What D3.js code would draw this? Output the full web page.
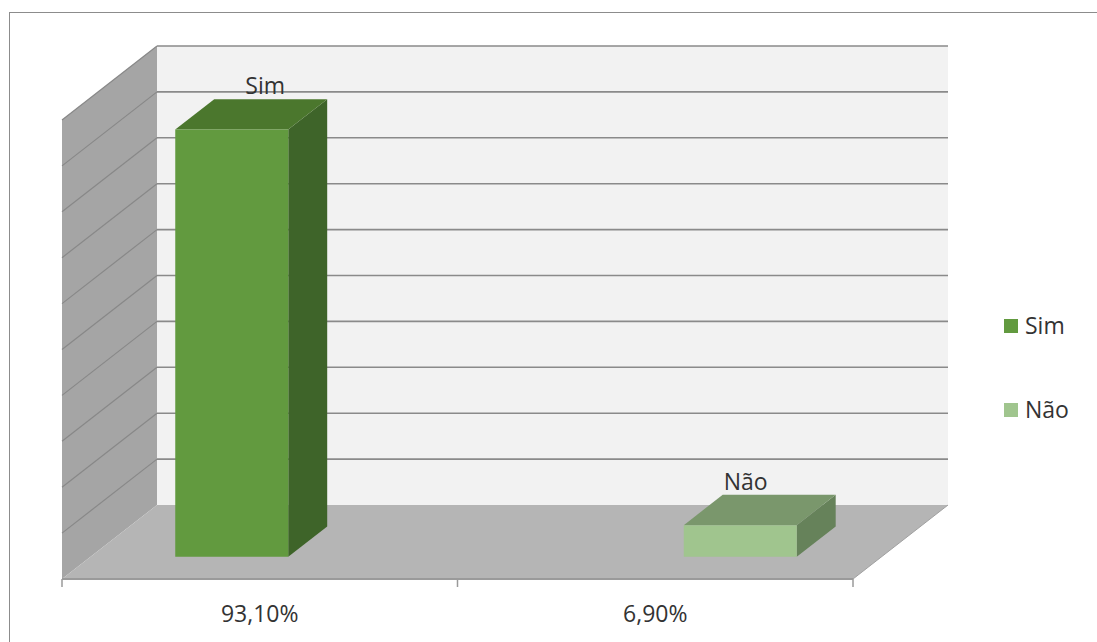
<!DOCTYPE html>
<html>
<head>
<meta charset="utf-8">
<script src="https://cdn.jsdelivr.net/npm/d3@7"></script>
<style>
  html, body { margin: 0; padding: 0; background: #ffffff; }
  svg { display: block; }
  text { font-family: "Open Sans", "DejaVu Sans", sans-serif; fill: #333333; }
</style>
</head>
<body>
<svg id="chart" width="1097" height="642"></svg>
<script>
// Categories and series values
const categories = ["93,10%", "6,90%"];
const series = ["Sim", "Não"];
const simValues = [93.1, 0];
const naoValues = [0, 6.9];
const valueTicks = [0, 10, 20, 30, 40, 50, 60, 70, 80, 90, 100];

const seriesValues = [simValues, naoValues];
const colors = {
  "Sim": { front: "#629a3f", top: "#4b772d", side: "#3e6429" },
  "Não": { front: "#a0c58e", top: "#7a976c", side: "#66825a" }
};

const svg = d3.select("#chart");

// Oblique 3D frame: back wall, side wall, floor
const wall = { left: 157, right: 948, top: 46, bottom: 505 };
const depthDX = -95, depthDY = 74;           // offset of the front edge relative to the back wall
const barDepth = [0.29, 0.70];               // bar spans this fraction of the depth

const x = d3.scaleBand().domain(categories).range([wall.left, wall.right]).paddingInner(0).paddingOuter(0);
const xs = d3.scaleBand().domain(series).range([0, x.bandwidth()]).paddingInner(0).paddingOuter(0.75);
const y = d3.scaleLinear().domain([0, 100]).range([wall.bottom, wall.top]);

// project (back-wall x, back-wall y, depth 0..1) to screen
const P = (px, py, d) => [px + depthDX * d, py + depthDY * d];
const poly = pts => "M" + pts.map(p => p.join(",")).join("L") + "Z";

// outer chart border
svg.append("rect").attr("x", 9.5).attr("y", 12.5).attr("width", 1200).attr("height", 700)
  .attr("fill", "none").attr("stroke", "#8c8c8c").attr("stroke-width", 1);

const g = svg.append("g");

// back wall
g.append("path")
  .attr("d", poly([[wall.left, y(100)], [wall.right, y(100)], [wall.right, y(0)], [wall.left, y(0)]]))
  .attr("fill", "#f2f2f2");

// side wall
g.append("path")
  .attr("d", poly([[wall.left, y(100)], P(wall.left, y(100), 1), P(wall.left, y(0), 1), [wall.left, y(0)]]))
  .attr("fill", "#a5a5a5");

// floor
g.append("path")
  .attr("d", poly([[wall.left, y(0)], [wall.right, y(0)], P(wall.right, y(0), 1), P(wall.left, y(0), 1)]))
  .attr("fill", "#b5b5b5");

// gridlines on back and side walls
const grid = valueTicks.filter(v => v > 0);
g.selectAll("line.grid-back").data(grid).join("line")
  .attr("class", "grid-back")
  .attr("x1", wall.left).attr("x2", wall.right)
  .attr("y1", d => y(d)).attr("y2", d => y(d))
  .attr("stroke", "#8a8a8a").attr("stroke-width", 1.6);
g.selectAll("line.grid-side").data(grid).join("line")
  .attr("class", "grid-side")
  .attr("x1", wall.left).attr("y1", d => y(d))
  .attr("x2", d => P(wall.left, y(d), 1)[0]).attr("y2", d => P(wall.left, y(d), 1)[1])
  .attr("stroke", "#888888").attr("stroke-width", 1.2);

// floor front edge and category ticks
const frontY = P(0, y(0), 1)[1];
const fx = d3.scaleBand().domain(categories).range([wall.left + depthDX, wall.right + depthDX]);
g.append("line")
  .attr("x1", fx.range()[0]).attr("x2", fx.range()[1])
  .attr("y1", frontY).attr("y2", frontY)
  .attr("stroke", "#9a9a9a").attr("stroke-width", 2);
g.append("line")
  .attr("x1", wall.right).attr("y1", y(0))
  .attr("x2", P(wall.right, y(0), 1)[0]).attr("y2", frontY)
  .attr("stroke", "#a0a0a0").attr("stroke-width", 1);
const boundaries = categories.map(c => fx(c)).concat([fx.range()[1]]);
g.selectAll("line.tick").data(boundaries).join("line")
  .attr("class", "tick")
  .attr("x1", d => d).attr("x2", d => d)
  .attr("y1", frontY).attr("y2", frontY + 8)
  .attr("stroke", "#9a9a9a").attr("stroke-width", 1.5);

// category labels
const axis = d3.axisBottom(fx).tickSize(0).tickPadding(0);
const axG = g.append("g").attr("transform", `translate(0,${frontY})`).call(axis);
axG.select(".domain").remove();
axG.selectAll("text")
  .attr("y", 43).attr("dy", null)
  .style("font-family", "'Open Sans', sans-serif")
  .style("font-size", "23px").style("fill", "#333333");

// bars
const bars = [];
series.forEach((s, si) => {
  categories.forEach((c, ci) => {
    const v = seriesValues[si][ci];
    if (v > 0) bars.push({ s, c, v });
  });
});

const barG = g.append("g");
bars.forEach(b => {
  const x0 = x(b.c) + xs(b.s), x1 = x0 + xs.bandwidth();
  const yt = y(b.v), yb = y(0);
  const [dB, dF] = barDepth;
  const col = colors[b.s];
  // right side
  barG.append("path")
    .attr("d", poly([P(x1, yt, dF), P(x1, yt, dB), P(x1, yb, dB), P(x1, yb, dF)]))
    .attr("fill", col.side);
  // top
  barG.append("path")
    .attr("d", poly([P(x0, yt, dF), P(x1, yt, dF), P(x1, yt, dB), P(x0, yt, dB)]))
    .attr("fill", col.top);
  // front
  barG.append("path")
    .attr("d", poly([P(x0, yt, dF), P(x1, yt, dF), P(x1, yb, dF), P(x0, yb, dF)]))
    .attr("fill", col.front);
});

// series-name data labels above the bars
const midD = (barDepth[0] + barDepth[1]) / 2;
const plotCX = (wall.left + wall.right) / 2 + depthDX * midD;
barG.selectAll("text.dlabel").data(bars).join("text")
  .attr("class", "dlabel")
  .attr("x", b => {
    const cx = P(x(b.c) + xs(b.s) + xs.bandwidth() / 2, 0, midD)[0];
    return plotCX + 0.945 * (cx - plotCX);
  })
  .attr("y", b => P(0, y(b.v), barDepth[0])[1] - 5)
  .attr("text-anchor", "middle")
  .style("font-size", "23px")
  .text(b => b.s);

// legend
const legend = svg.append("g").attr("transform", "translate(1004,319)");
const ly = d3.scalePoint().domain(series).range([0, 84]);
const li = legend.selectAll("g").data(series).join("g")
  .attr("transform", d => `translate(0,${ly(d)})`);
li.append("rect").attr("width", 14).attr("height", 14).attr("fill", d => colors[d].front);
li.append("text").attr("x", 21).attr("y", 14.5).style("font-size", "23px").text(d => d);
</script>
</body>
</html>
